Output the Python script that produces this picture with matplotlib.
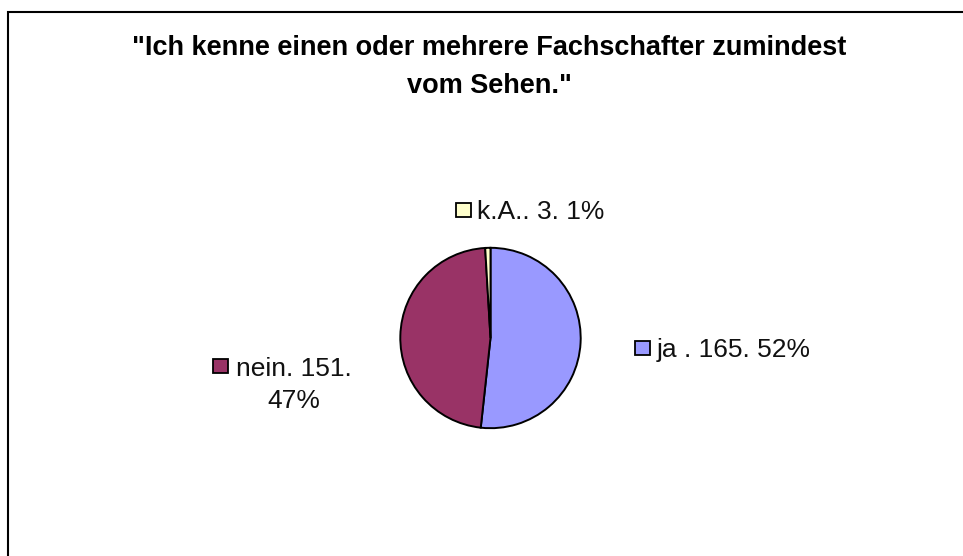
import matplotlib
matplotlib.use("Agg")
import matplotlib.pyplot as plt
from matplotlib.patches import Rectangle

categories = ["ja ", "nein", "k.A."]
values = [165, 151, 3]
percents = [52, 47, 1]
colors = ["#9999FF", "#993366", "#FFFFCC"]
title = "\"Ich kenne einen oder mehrere Fachschafter zumindest\nvom Sehen.\""

W, H = 963, 556
fig = plt.figure(figsize=(W / 100, H / 100), dpi=100)
fig.patch.set_facecolor("white")
plt.rcParams["font.family"] = ["Liberation Sans", "DejaVu Sans"]

def px(x, y):
    return x / W, 1 - y / H

# frame of the chart area
fig.patches.append(Rectangle(px(7.5, 600), (W + 20) / W, (600 - 11.5) / H,
                             transform=fig.transFigure, fill=False,
                             edgecolor="#000000", linewidth=1.5))

# pie
cx, cy, r = 490.5, 338, 92
ax = fig.add_axes([(cx - r) / W, 1 - (cy + r) / H, 2 * r / W, 2 * r / H])
ax.pie(values, colors=colors, startangle=90, counterclock=False,
       wedgeprops=dict(edgecolor="black", linewidth=1.4))
ax.set_xlim(-1.02, 1.02)
ax.set_ylim(-1.02, 1.02)
ax.set_aspect("equal")
ax.axis("off")

fig.text(*px(489, 67), title, ha="center", va="center", fontsize=19.5,
         fontweight="bold", linespacing=1.6)

labels = [f"{c}. {v}. {p}%" for c, v, p in zip(categories, values, percents)]
labels[1] = f"{categories[1]}. {values[1]}.\n{percents[1]}%"

label_pos = [(657, 350), (236, 385), (477, 212)]
for lab, col, (x, y) in zip(labels, colors, label_pos):
    fig.text(*px(x, y), lab, ha="left", va="center", fontsize=19,
             multialignment="center", linespacing=1.4, color="#111111")

square_pos = [(635, 341), (213, 359), (456, 203)]
for col, (x, y) in zip(colors, square_pos):
    fig.patches.append(Rectangle(px(x, y + 14), 15 / W, 14 / H,
                                 transform=fig.transFigure, facecolor=col,
                                 edgecolor="black", linewidth=1.3))

fig.savefig("out.png", dpi=100)
